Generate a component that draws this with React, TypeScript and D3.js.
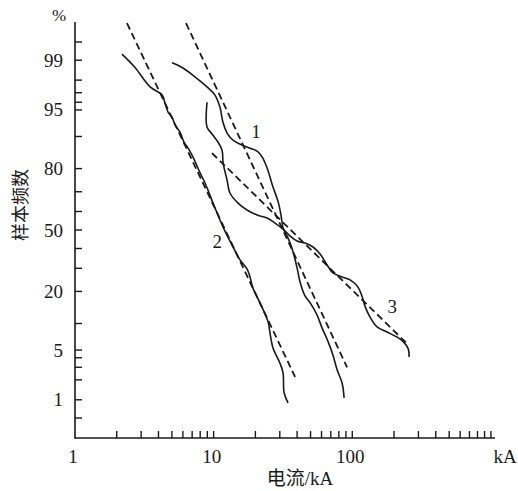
import React from "react";
import * as d3 from "d3";

// current (kA) vs cumulative sample frequency (%)
const curve1 = [
  [5.01, 98.9], [5.92, 98.7], [7.1, 98.3], [8.96, 97.5], [10.2, 96.8], [11.1, 95.4],
  [11.7, 92.9], [12.5, 90.8], [13.8, 89.1], [16.0, 87.8], [18.3, 86.9], [20.6, 86.0],
  [22.4, 84.1], [24.3, 80.2], [26.8, 72.2], [29.2, 65.0], [30.6, 58.1], [31.7, 51.1],
  [33.9, 46.7], [35.6, 42.9], [37.4, 38.2], [40.0, 30.1], [42.0, 23.8], [45.6, 18.3],
  [50.4, 15.5], [55.7, 12.2], [60.5, 9.0], [66.9, 6.3], [72.6, 4.3], [77.6, 2.8],
  [84.4, 1.8], [87.3, 1.07],
];

const curve2 = [
  [2.18, 99.2], [2.71, 98.7], [3.48, 97.5], [4.24, 96.8], [4.46, 95.9], [4.69, 94.7],
  [5.01, 93.9], [5.27, 92.5], [5.72, 91.0], [6.11, 88.6], [6.54, 86.9], [7.1, 84.1],
  [7.98, 78.3], [8.67, 74.0], [9.9, 64.4], [11.7, 51.6], [13.8, 40.8], [15.5, 34.1],
  [17.4, 29.7], [18.3, 26.0], [19.2, 21.3], [21.6, 15.9], [24.7, 10.4], [25.5, 7.9],
  [26.8, 5.3], [30.1, 3.4], [31.7, 2.5], [32.2, 1.3], [34.4, 0.89],
];

const curve3 = [
  [8.96, 96.0], [8.96, 92.1], [9.73, 90.6], [10.6, 88.9], [11.5, 86.3], [11.7, 82.1],
  [12.5, 75.3], [13.1, 69.4], [15.0, 64.4], [17.4, 60.8], [20.6, 58.1], [24.3, 56.5],
  [27.7, 53.8], [31.7, 50.5], [35.6, 46.7], [40.0, 44.0], [45.6, 42.9], [52.1, 40.8],
  [58.6, 37.1], [65.8, 31.6], [72.6, 27.8], [84.4, 26.0], [96.4, 24.7], [110, 21.7],
  [118, 17.9], [124, 14.6], [134, 11.7], [151, 9.2], [178, 8.1], [211, 7.1],
  [233, 6.3], [253, 5.2], [257, 4.1],
];

// fitted straight lines (dashed)
const fit1 = [[6.32, 99.77], [91.7, 3.0]];
const fit2 = [[2.37, 99.77], [38.7, 2.2]];
const fit3 = [[9.73, 85.4], [253, 5.8]];

const curveLabels = [
  { text: "1", at: [20.2, 91.2] },
  { text: "2", at: [10.6, 43.5] },
  { text: "3", at: [194, 14.6] },
];

const yTicks = [0.5, 1, 2, 3, 4, 5, 10, 20, 30, 40, 50, 60, 70, 80, 90, 95, 96, 97, 98, 99, 99.5];
const yLabels = [1, 5, 20, 50, 80, 95, 99];
const xTicks = [2, 3, 4, 5, 6, 7, 8, 9, 10, 20, 30, 40, 50, 60, 70, 80, 90, 100,
  200, 300, 400, 500, 600, 700, 800, 900, 1000];
const xLabels = [1, 10, 100];

// inverse normal CDF (Acklam)
function probit(p: number) {
  const a = [-39.69683028665376, 220.9460984245205, -275.9285104469687, 138.357751867269, -30.66479806614716, 2.506628277459239];
  const b = [-54.47609879822406, 161.5858368580409, -155.6989798598866, 66.80131188771972, -13.28068155288572];
  const c = [-0.007784894002430293, -0.3223964580411365, -2.400758277161838, -2.549732539343734, 4.374664141464101, 2.938163982698783];
  const d = [0.007784695709041462, 0.3224671290700398, 2.445134137142996, 3.754408661907416];
  const plow = 0.02425;
  if (p < plow) {
    const q = Math.sqrt(-2 * Math.log(p));
    return (((((c[0] * q + c[1]) * q + c[2]) * q + c[3]) * q + c[4]) * q + c[5]) /
      ((((d[0] * q + d[1]) * q + d[2]) * q + d[3]) * q + 1);
  }
  if (p <= 1 - plow) {
    const q = p - 0.5, r = q * q;
    return (((((a[0] * r + a[1]) * r + a[2]) * r + a[3]) * r + a[4]) * r + a[5]) * q /
      (((((b[0] * r + b[1]) * r + b[2]) * r + b[3]) * r + b[4]) * r + 1);
  }
  const q = Math.sqrt(-2 * Math.log(1 - p));
  return -(((((c[0] * q + c[1]) * q + c[2]) * q + c[3]) * q + c[4]) * q + c[5]) /
    ((((d[0] * q + d[1]) * q + d[2]) * q + d[3]) * q + 1);
}

const App = () => {
  const left = 75, right = 495, top = 22, bottom = 438;
  const serif = "'Liberation Serif', 'Times New Roman', serif";
  const cjk = "'Liberation Serif', 'Noto Sans CJK SC', serif";

  const x = d3.scaleLog().domain([1, 1070]).range([left, right]);
  const yz = d3.scaleLinear().domain([-2.85, 2.85]).range([bottom, top]);
  const y = (p: number) => yz(probit(p / 100));

  const line = d3.line<number[]>()
    .x((d) => x(d[0]))
    .y((d) => y(d[1]))
    .curve(d3.curveCatmullRom.alpha(0.5));
  const straight = d3.line<number[]>().x((d) => x(d[0])).y((d) => y(d[1]));

  return (
    <div style={{ position: "absolute", left: 0, top: 0 }}>
      <svg width={518} height={491} style={{ display: "block", background: "#fff" }}>
        <g stroke="#1a1a1a" fill="none">
          {[curve1, curve2, curve3].map((c, i) => (
            <path key={i} d={line(c) ?? ""} strokeWidth={1.6} />
          ))}
          {[fit1, fit2, fit3].map((c, i) => (
            <path key={i} d={straight(c) ?? ""} strokeWidth={1.8} strokeDasharray="7,4" />
          ))}
        </g>

        {/* axes */}
        <g stroke="#1a1a1a" strokeWidth={1.6}>
          <line x1={left} x2={left} y1={top} y2={bottom + 0.8} />
          <line x1={left} x2={right} y1={bottom} y2={bottom} />
          {yTicks.map((t) => (
            <line key={t} x1={left} x2={left + 7} y1={y(t)} y2={y(t)} strokeWidth={1.4} />
          ))}
          {xTicks.map((t) => (
            <line key={t} x1={x(t)} x2={x(t)} y1={bottom} y2={bottom - 7} strokeWidth={1.4} />
          ))}
        </g>

        <g fontFamily={serif} fontSize={19} fill="#1a1a1a">
          {yLabels.map((t) => (
            <text key={t} x={63} y={y(t)} textAnchor="end" dominantBaseline="central">{t}</text>
          ))}
          {xLabels.map((t) => (
            <text key={t} x={x(t) - 2} y={463} textAnchor="middle">{t}</text>
          ))}
          <text x={505} y={463} textAnchor="middle">kA</text>
          <text x={59} y={21} textAnchor="middle" fontSize={17}>%</text>
          {curveLabels.map((l) => (
            <text key={l.text} x={x(l.at[0])} y={y(l.at[1])} textAnchor="middle"
              dominantBaseline="central" fontSize={19}>{l.text}</text>
          ))}
        </g>

        <text x={300} y={485} textAnchor="middle" fontFamily={cjk} fontSize={19} fill="#1a1a1a">
          电流/kA
        </text>
        <text transform="translate(27,205) rotate(-90)" textAnchor="middle"
          fontFamily="'Noto Sans CJK SC', sans-serif" fontSize={18} fill="#1a1a1a">
          样本频数
        </text>
      </svg>
    </div>
  );
};

export default App;
